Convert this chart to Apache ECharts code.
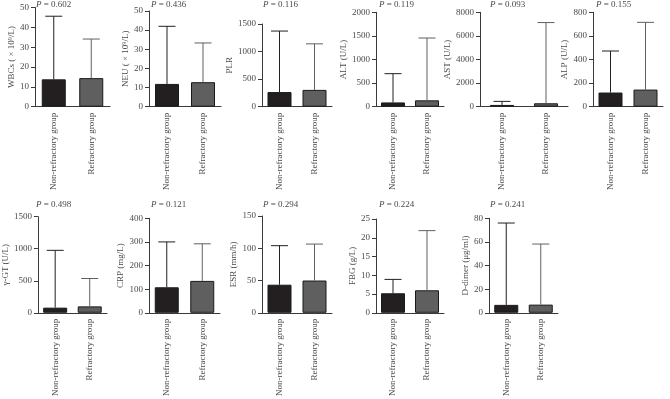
<!DOCTYPE html>
<html>
<head>
<meta charset="utf-8">
<script src="https://cdn.jsdelivr.net/npm/echarts@6/dist/echarts.min.js"></script>
<style>
html, body { margin: 0; padding: 0; background: #fff; }
#chart { width: 670px; height: 399px; }
</style>
</head>
<body>
<div id="chart"></div>
<script>
// data
var categories = ['Non-refractory group', 'Refractory group'];
var axisNames = ['WBCs ( \u00d7 10\u2079/L)', 'NEU ( \u00d7 10\u2079/L)', 'PLR', 'ALT (U/L)', 'AST (U/L)', 'ALP (U/L)',
    '\u03b3-GT (U/L)', 'CRP (mg/L)', 'ESR (mm/h)', 'FBG (g/L)', 'D-dimer (\u03bcg/ml)'];
var pValues = ['0.602', '0.436', '0.116', '0.119', '0.093', '0.155', '0.498', '0.121', '0.294', '0.224', '0.241'];
var nonRefMean = [13.8, 11.9, 265, 90, 150, 120, 80, 108, 43.5, 5.2, 6.7];
var nonRefErr = [45.6, 42, 1372, 700, 450, 472, 975, 300, 104, 8.9, 76];
var refMean = [14.4, 12.8, 305, 135, 290, 145, 100, 135, 50, 6, 6.9];
var refErr = [34.1, 33.3, 1140, 1455, 7130, 715, 535, 292, 106.5, 21.9, 58.2];
var axisMax = [50, 50, 1500, 2000, 8000, 800, 1500, 400, 150, 25, 80];
var axisStep = [10, 10, 500, 500, 2000, 200, 500, 100, 50, 5, 20];

// panel boxes: left, top, width, height, name gap, p-label x, p-label y
var layout = [
    [35, 7.5, 75, 99.2, 18, 36, 0],
    [149, 11, 72, 95.7, 16, 151, 0],
    [262, 24, 70, 82.7, 23, 263, 0],
    [376, 12.3, 68, 94.4, 22, 379, 0],
    [480, 12.3, 88, 94.4, 15, 490, 0],
    [593, 12.3, 70, 94.4, 21, 596, 0],
    [35, 216.7, 72, 101, 25, 36, 200],
    [149, 218.3, 71, 99.4, 15, 151, 200],
    [262, 216, 70, 101.7, 22, 263, 200],
    [376, 219, 68, 98.7, 18, 379, 200],
    [489, 218.3, 69, 99.4, 18, 490, 200]
];

var FONT = '"Liberation Serif", "Times New Roman", serif';
var FS = 9;
var TEXT = '#4a4a4a';
var LINE = '#3a3a3a';
var DARK = '#231f20';
var GRAY = '#5f5f5f';

function renderErr(params, api) {
    var base = api.coord([api.value(0), api.value(1)]);
    var top = api.coord([api.value(0), api.value(2)]);
    var color = params.dataIndex === 0 ? DARK : '#606060';
    var half = 8.5;
    return {
        type: 'group',
        children: [
            { type: 'line', shape: { x1: base[0], y1: base[1], x2: top[0], y2: top[1] }, style: { stroke: color, lineWidth: 1 } },
            { type: 'line', shape: { x1: top[0] - half, y1: top[1], x2: top[0] + half, y2: top[1] }, style: { stroke: color, lineWidth: 1 } }
        ]
    };
}

var grids = [], xAxes = [], yAxes = [], series = [], titles = [];
layout.forEach(function (g, i) {
    grids.push({ left: g[0], top: g[1], width: g[2], height: g[3] });
    xAxes.push({
        type: 'category', gridIndex: i, data: categories,
        axisLine: { lineStyle: { color: LINE, width: 1 } },
        axisTick: { alignWithLabel: true, length: 4, lineStyle: { color: LINE } },
        axisLabel: { rotate: 90, interval: 0, fontSize: FS, color: TEXT, fontFamily: FONT, margin: 6 }
    });
    yAxes.push({
        type: 'value', gridIndex: i, min: 0, max: axisMax[i], interval: axisStep[i],
        name: axisNames[i], nameLocation: 'middle', nameGap: g[4],
        nameTextStyle: { fontSize: FS, color: TEXT, fontFamily: FONT },
        axisLine: { show: true, lineStyle: { color: LINE, width: 1 } },
        axisTick: { show: true, length: 4, lineStyle: { color: LINE } },
        splitLine: { show: false },
        axisLabel: {
            fontSize: FS, color: TEXT, fontFamily: FONT, margin: 6,
            formatter: function (v) { return String(v); }
        }
    });
    series.push({
        type: 'bar', xAxisIndex: i, yAxisIndex: i, barWidth: 24, silent: true,
        itemStyle: { borderColor: '#1a1a1a', borderWidth: 1 },
        data: [
            { value: nonRefMean[i], itemStyle: { color: DARK } },
            { value: refMean[i], itemStyle: { color: GRAY } }
        ]
    });
    series.push({
        type: 'custom', xAxisIndex: i, yAxisIndex: i, silent: true, z: 3,
        renderItem: renderErr,
        data: [[0, nonRefMean[i], nonRefErr[i]], [1, refMean[i], refErr[i]]]
    });
    titles.push({
        text: '{i|P} = ' + pValues[i], left: g[5], top: g[6], padding: 0,
        textStyle: {
            fontSize: FS, fontWeight: 'normal', color: TEXT, fontFamily: FONT,
            rich: { i: { fontStyle: 'italic', fontSize: FS, color: TEXT, fontFamily: FONT } }
        }
    });
});

var myChart = echarts.init(document.getElementById('chart'));
myChart.setOption({
    animation: false,
    backgroundColor: '#fff',
    title: titles,
    grid: grids,
    xAxis: xAxes,
    yAxis: yAxes,
    series: series
});
</script>
</body>
</html>
